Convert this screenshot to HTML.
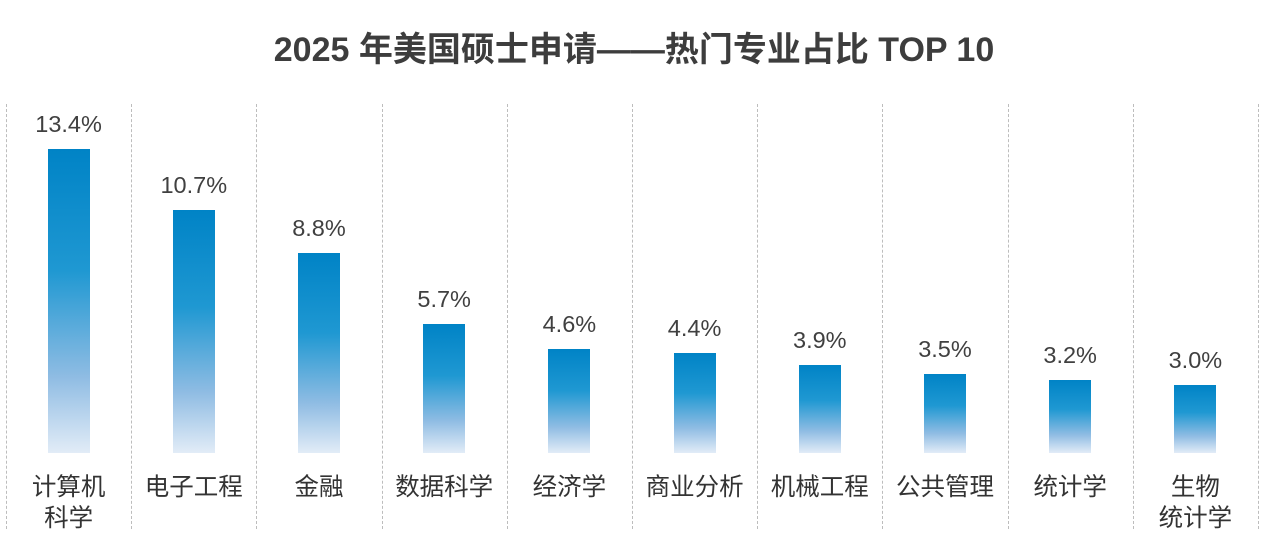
<!DOCTYPE html>
<html><head><meta charset="utf-8"><style>
body{margin:0;background:#fff;width:1268px;height:559px;overflow:hidden;position:relative;font-family:"Liberation Sans","Noto Sans CJK SC",sans-serif;}
.t{position:absolute;top:22px;left:0;width:1268px;text-align:center;font-size:34px;font-weight:bold;color:#3d3d3d;}
.d{position:absolute;top:104px;height:425px;border-left:1.5px dashed #bdbdbd;}
.b{position:absolute;width:42px;background:linear-gradient(#0083c6,#1f98d2 40%,#8fbce3 75%,#e2ecf7);}
.v{position:absolute;width:125px;text-align:center;font-size:23.5px;color:#404040;}
.c{position:absolute;top:472px;width:125px;text-align:center;font-size:24.5px;line-height:31px;color:#333;}
</style></head><body>
<div class="t">2025 年美国硕士申请——热门专业占比 TOP 10</div>
<div id="g"></div>
<script>
var data=[["13.4%",13.4,"计算机<br>科学"],["10.7%",10.7,"电子工程"],["8.8%",8.8,"金融"],["5.7%",5.7,"数据科学"],["4.6%",4.6,"经济学"],["4.4%",4.4,"商业分析"],["3.9%",3.9,"机械工程"],["3.5%",3.5,"公共管理"],["3.2%",3.2,"统计学"],["3.0%",3.0,"生物<br>统计学"]];
var h='';var w=125.2,x0=6,base=453,k=22.69;
for(var i=0;i<=10;i++)h+='<div class="d" style="left:'+(x0+i*w)+'px"></div>';
data.forEach(function(d,i){var cx=x0+i*w+w/2;var top=base-d[1]*k;
h+='<div class="b" style="left:'+(cx-21)+'px;top:'+top+'px;height:'+(base-top)+'px"></div>';
h+='<div class="v" style="left:'+(cx-62.5)+'px;top:'+(top-38)+'px">'+d[0]+'</div>';
h+='<div class="c" style="left:'+(cx-62.5)+'px">'+d[2]+'</div>';});
document.getElementById('g').innerHTML=h;
</script>
</body></html>
